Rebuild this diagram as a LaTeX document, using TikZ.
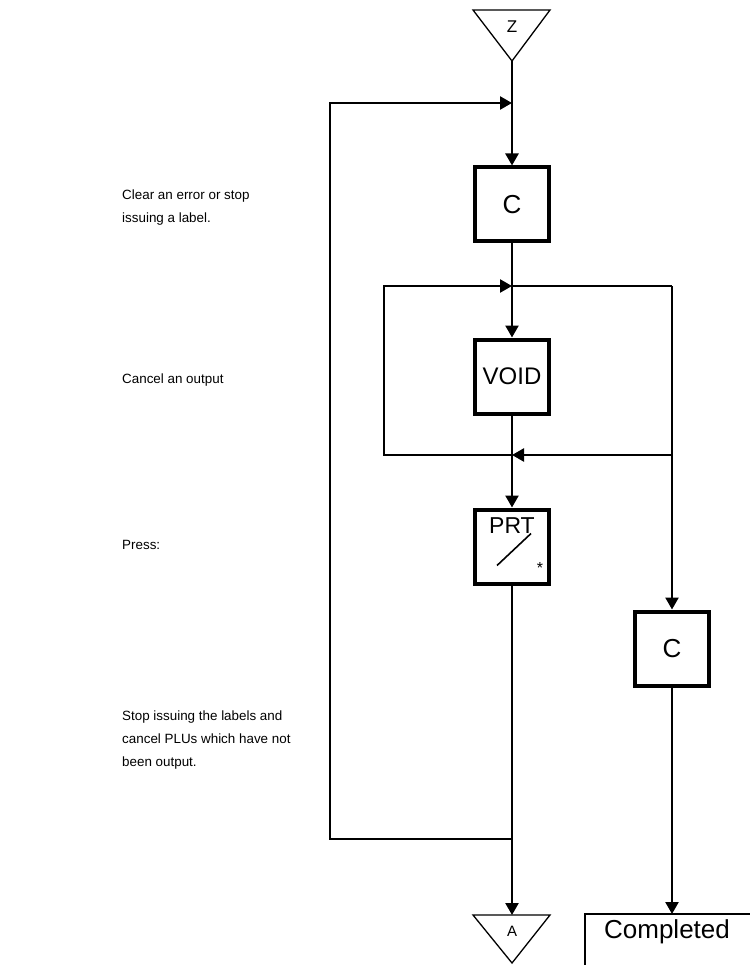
\documentclass[tikz,border=0pt]{standalone}
\usepackage{fontspec}
\setmainfont{Liberation Sans}
\usetikzlibrary{positioning,arrows.meta}

\begin{document}
\begin{tikzpicture}[x=1pt, y=-1pt,
        key/.style={draw, line width=4pt, minimum size=74pt, inner sep=0pt,
                    font=\fontsize{24}{28}\selectfont},
        flow/.style={line width=2.4pt},
        arr/.style={flow, -{Triangle[length=12pt,width=13pt]}},
        tri/.style={draw, line width=1.3pt, line join=miter},
        note/.style={anchor=west, align=left, inner sep=0pt,
                     font=\fontsize{13.4}{23}\selectfont}
    ]
        \useasboundingbox (0,0) rectangle (749,965);

        % notes on the left
        \node[note] (n1) at (122,207.5) {Clear an error or stop\\issuing a label.};
        \node[note] (n2) at (122,380) {Cancel an output};
        \node[note] (n3) at (122,545) {Press:};
        \node[note] (n4) at (122,740) {Stop issuing the labels and\\cancel PLUs which have not\\been output.};

        % connector Z
        \draw[tri] (473,10) -- (550,10) -- (512,61) -- cycle;
        \node[font=\fontsize{17}{20}\selectfont] (z) at (512,27) {Z};
        \coordinate (zend) at (512,61);

        % keys
        \node[key, font=\fontsize{26}{30}\selectfont] (c1) at (512,204.5) {C};
        \node[key] (void) at (512,376.5) {VOID};
        \node[key] (prt) at (512,546.5) {};
        \node[font=\fontsize{23}{26}\selectfont] (prtlbl) at (512,526) {PRT};
        \draw[line width=1.6pt] ([shift={(-15,19)}]prt.center) -- ([shift={(19,-13)}]prt.center);
        \node[font=\fontsize{16}{18}\selectfont] (star) at (540,568) {*};
        \node[key, font=\fontsize{26}{30}\selectfont] (c2) at (672,648.5) {C};

        % connector A
        \draw[tri] (473,915) -- (550,915) -- (512,963) -- cycle;
        \node[font=\fontsize{15}{18}\selectfont] (a) at (512,931) {A};
        \coordinate (atop) at (512,915);

        % end box
        \draw[line width=1.5pt] (585,990) -- (585,914) -- (760,914);
        \node[font=\fontsize{26}{30}\selectfont] (done) at (667,932) {Completed};
        \coordinate (donetop) at (672,914);

        % junctions
        \coordinate (j1) at (512,103);
        \coordinate (j2) at (512,286);
        \coordinate (j3) at (512,455);
        \coordinate (j4) at (512,839);
        \coordinate (r1) at (672,286);
        \coordinate (r2) at (672,455);

        % flow lines
        \draw[arr] (zend) -- (c1.north);
        \draw[arr] (j4) -| (330,103) -- (j1);
        \draw[arr] (c1.south) -- (void.north);
        \draw[arr] (j3) -| (384,286) -- (j2);
        \draw[flow] (j2) -- (r1);
        \draw[arr] (r2) -- (j3);
        \draw[arr] (r1) -- (c2.north);
        \draw[arr] (void.south) -- (prt.north);
        \draw[arr] (prt.south) -- (atop);
        \draw[arr] (c2.south) -- (donetop);
    \end{tikzpicture}
\end{document}
